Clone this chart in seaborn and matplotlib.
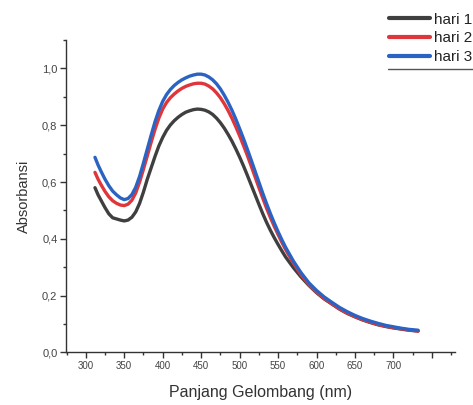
import numpy as np
import pandas as pd
import matplotlib
matplotlib.use("Agg")
import matplotlib.pyplot as plt
from matplotlib.lines import Line2D
from matplotlib.ticker import MultipleLocator, FuncFormatter
import seaborn as sns

# ---- data ----
wavelength = [312, 316, 320, 325, 330, 335, 340, 345, 350, 355, 360, 365, 370, 375, 380, 385,
              390, 395, 400, 405, 410, 415, 420, 425, 430, 435, 440, 445, 450, 455, 460, 465,
              470, 475, 480, 485, 490, 495, 500, 505, 510, 515, 520, 525, 530, 535, 540, 545,
              550, 555, 560, 570, 580, 590, 600, 610, 620, 630, 640, 650, 660, 670, 680, 690,
              700, 710, 720, 732]
hari1 = [0.580, 0.555, 0.535, 0.510, 0.488, 0.474, 0.470, 0.466, 0.463, 0.466, 0.476, 0.495,
         0.525, 0.565, 0.610, 0.650, 0.690, 0.727, 0.757, 0.782, 0.801, 0.816, 0.828, 0.838,
         0.846, 0.851, 0.855, 0.857, 0.856, 0.853, 0.847, 0.838, 0.825, 0.809, 0.790, 0.768,
         0.744, 0.717, 0.688, 0.657, 0.624, 0.590, 0.556, 0.522, 0.489, 0.458, 0.430, 0.404,
         0.380, 0.357, 0.335, 0.298, 0.265, 0.236, 0.210, 0.188, 0.170, 0.152, 0.137, 0.125,
         0.114, 0.105, 0.097, 0.091, 0.086, 0.082, 0.078, 0.075]
hari2 = [0.634, 0.610, 0.590, 0.567, 0.548, 0.534, 0.525, 0.519, 0.517, 0.522, 0.536, 0.562,
         0.600, 0.645, 0.692, 0.740, 0.785, 0.825, 0.857, 0.880, 0.897, 0.910, 0.921, 0.930,
         0.937, 0.942, 0.946, 0.948, 0.948, 0.945, 0.938, 0.928, 0.914, 0.897, 0.876, 0.852,
         0.825, 0.795, 0.763, 0.729, 0.694, 0.657, 0.619, 0.581, 0.544, 0.508, 0.475, 0.444,
         0.415, 0.387, 0.361, 0.314, 0.273, 0.239, 0.212, 0.190, 0.171, 0.153, 0.138, 0.126,
         0.115, 0.106, 0.098, 0.092, 0.087, 0.083, 0.079, 0.075]
hari3 = [0.687, 0.660, 0.637, 0.610, 0.587, 0.568, 0.555, 0.544, 0.538, 0.542, 0.556, 0.582,
         0.620, 0.667, 0.716, 0.765, 0.812, 0.852, 0.884, 0.908, 0.926, 0.940, 0.951, 0.960,
         0.967, 0.973, 0.977, 0.980, 0.980, 0.977, 0.970, 0.960, 0.946, 0.928, 0.906, 0.881,
         0.853, 0.822, 0.788, 0.753, 0.716, 0.678, 0.639, 0.600, 0.561, 0.524, 0.489, 0.456,
         0.425, 0.396, 0.369, 0.321, 0.280, 0.245, 0.218, 0.195, 0.176, 0.158, 0.143, 0.130,
         0.119, 0.110, 0.102, 0.095, 0.090, 0.085, 0.081, 0.078]

series_names = ["hari 1", "hari 2", "hari 3"]
colors = ["#3f3f3f", "#e0363b", "#2b63c3"]
x_ticks = [300, 350, 400, 450, 500, 550, 600, 650, 700, 750]
x_tick_labels = ["300", "350", "400", "450", "500", "550", "600", "650", "700", ""]

df = pd.concat([
    pd.DataFrame({"wl": wavelength, "abs": vals, "series": name})
    for name, vals in zip(series_names, [hari1, hari2, hari3])
])

sns.set_theme(style="ticks")
plt.rcParams["font.family"] = ["Liberation Sans", "DejaVu Sans"]

fig = plt.figure(figsize=(4.73, 4.05), dpi=100)
ax = fig.add_axes([0.139, 0.130, 0.823, 0.771])

sns.lineplot(data=df, x="wl", y="abs", hue="series", hue_order=series_names,
             palette=colors, linewidth=2.4, ax=ax, legend=False, sort=True,
             estimator=None)
for ln in ax.get_lines():
    ln.set_solid_joinstyle("round")
    ln.set_solid_capstyle("round")

ax.set_xlim(274, 780)
ax.set_ylim(0, 1.1)
ax.set_xticks(x_ticks)
ax.set_xticklabels(x_tick_labels)
ax.xaxis.set_minor_locator(MultipleLocator(25))
ax.yaxis.set_major_locator(MultipleLocator(0.2))
ax.yaxis.set_minor_locator(MultipleLocator(0.1))
ax.yaxis.set_major_formatter(FuncFormatter(lambda v, p: f"{v:.1f}".replace(".", ",")))

for s in ["top", "right"]:
    ax.spines[s].set_visible(False)
for s in ["left", "bottom"]:
    ax.spines[s].set_color("#333333")
    ax.spines[s].set_linewidth(1.0)

ax.tick_params(axis="both", which="major", direction="out", length=4, width=1,
               color="#333333", labelcolor="#444444")
ax.tick_params(axis="both", which="minor", direction="out", length=2.5, width=1,
               color="#333333")
ax.tick_params(axis="x", labelsize=7, pad=2)
ax.tick_params(axis="y", labelsize=8, pad=2)

ax.set_xlabel("Panjang Gelombang (nm)", fontsize=11.5, color="#333333", labelpad=10)
ax.set_ylabel("Absorbansi", fontsize=10.5, color="#333333", labelpad=8)

handles = [Line2D([0], [0], color=c, lw=3) for c in colors]
leg = fig.legend(handles, series_names, loc="upper right", bbox_to_anchor=(1.02, 0.995),
                 frameon=False, fontsize=11, handlelength=2.7, handletextpad=0.2,
                 labelspacing=0.3, borderpad=0.2)
for t in leg.get_texts():
    t.set_color("#222222")
fig.add_artist(Line2D([0.82, 1.0], [0.829, 0.829], color="#555555", lw=1,
                      transform=fig.transFigure))

fig.savefig("out.png", dpi=100, facecolor="white")
